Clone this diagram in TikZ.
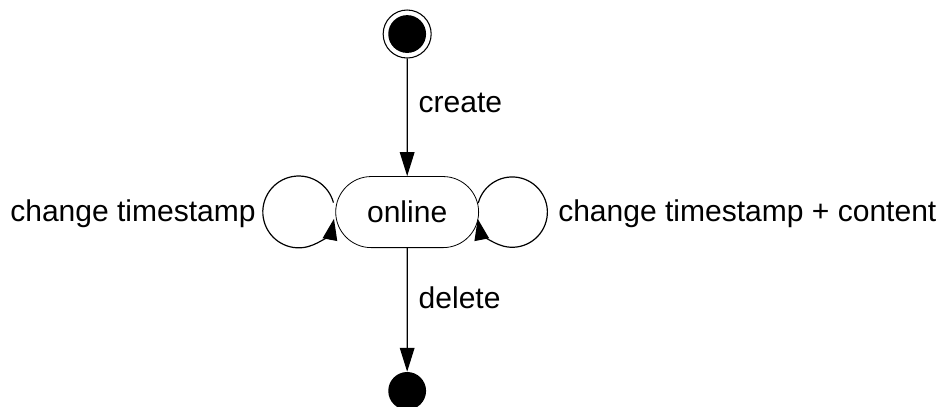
\documentclass[tikz,border=0pt]{standalone}
\usepackage{fontspec}
\setmainfont{Liberation Sans}
\usetikzlibrary{arrows.meta,shapes.misc}

\tikzset{
  lbl/.style={font=\fontsize{22.6}{27}\selectfont, inner sep=0pt},
  state/.style={rounded rectangle, draw, line width=0.6pt, minimum width=3.78cm, minimum height=1.88cm},
  trans/.style={line width=0.9pt, -{Triangle[length=18pt,width=11pt]}},
  selftrans/.style={line width=0.9pt, -{Triangle[length=16pt,width=11pt]}},
}

\begin{document}
\begin{tikzpicture}
    \useasboundingbox (0,0) rectangle (24.97,10.74);
    \node[circle, draw, line width=0.8pt, minimum size=1.27cm] (start) at (10.77,9.84) {};
    \fill (start.center) circle (0.5);
    \node[state, lbl] (online) at (10.77,5.13) {online};
    \node[circle, fill, inner sep=0pt, minimum size=1cm] (final) at (10.77,0.40) {};
    \draw[trans] (start) -- (online) node[pos=0.38, right=0.29cm, lbl] {create};
    \draw[trans] (online) -- (final) node[pos=0.4, right=0.29cm, lbl] {delete};
    % self loops on both sides
    \draw[selftrans] ([shift={(-0.05,0.25)}]online.west) arc[start angle=15, end angle=349, radius=0.95];
    \draw[selftrans] ([shift={(-0.02,0.24)}]online.east) arc[start angle=165, end angle=-169, radius=0.93];
    \node[lbl, anchor=east] (keep) at (6.77,5.09) {change timestamp};
    \node[lbl, anchor=west] (update) at (14.76,5.09) {change timestamp + content};
\end{tikzpicture}
\end{document}
